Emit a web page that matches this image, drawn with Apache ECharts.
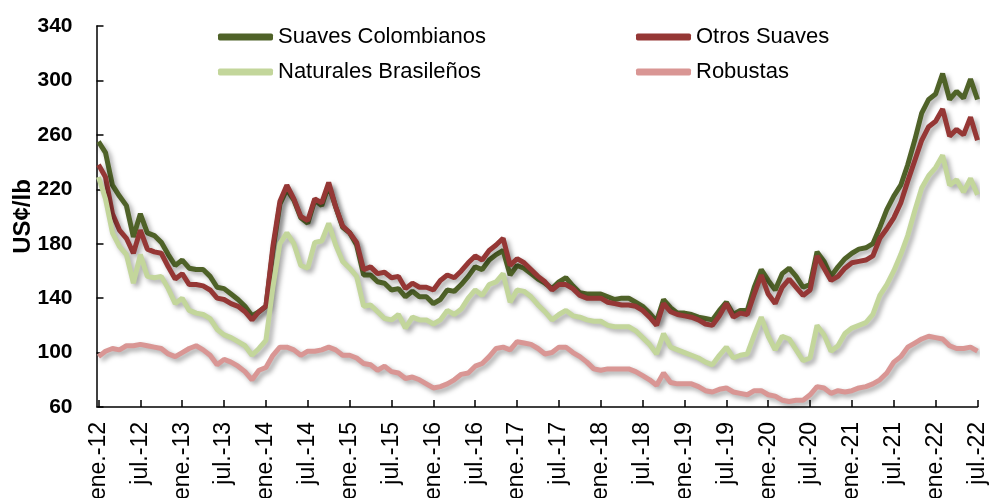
<!DOCTYPE html>
<html>
<head>
<meta charset="utf-8">
<script src="https://cdn.jsdelivr.net/npm/echarts@6/dist/echarts.min.js"></script>
<style>
  html, body { margin: 0; padding: 0; background: #ffffff; }
  #chart { width: 992px; height: 498px; }
</style>
</head>
<body>
<div id="chart"></div>
<script>
// meses y años del eje x (ene.-12 ... jul.-22)
var meses = ['ene.', 'feb.', 'mar.', 'abr.', 'may.', 'jun.', 'jul.', 'ago.', 'sept.', 'oct.', 'nov.', 'dic.'];
var anios = ['12', '13', '14', '15', '16', '17', '18', '19', '20', '21', '22'];

// precios mensuales, US¢/lb
var suavesColombianos = [
  255, 247, 223, 215, 208, 185, 202, 188, 186, 181,
  172, 164, 168, 162, 161, 161, 156, 148, 147, 143,
  139, 134, 127, 130, 134, 175, 209, 220, 212, 199,
  195, 212, 208, 223, 207, 192, 188, 179, 157, 157,
  152, 151, 146, 147, 141, 145, 141, 141, 136, 139,
  146, 145, 150, 156, 163, 161, 168, 172, 175, 157,
  164, 162, 158, 154, 151, 147, 152, 155, 149, 144,
  143, 143, 143, 141, 139, 140, 140, 137, 134, 129,
  123, 139, 133, 129, 129, 128, 126, 125, 124, 131,
  137, 128, 131, 131, 148, 161, 153, 146, 158, 162,
  156, 148, 150, 174, 167, 156, 163, 169, 173, 176,
  177, 180, 192, 205, 215, 223, 238, 256, 276, 286,
  290, 305, 286, 292, 287, 301, 286
];
var otrosSuaves = [
  238, 229, 202, 190, 184, 173, 190, 176, 174, 173,
  163, 154, 158, 150, 150, 149, 146, 140, 139, 136,
  134, 130, 124, 130, 134, 178, 211, 223, 213, 200,
  197, 213, 210, 225, 207, 193, 188, 181, 161, 163,
  158, 159, 155, 156, 147, 151, 148, 148, 146, 153,
  157, 155, 160, 166, 171, 168, 175, 179, 184, 164,
  169, 166, 161, 156, 152, 146, 150, 150, 147, 142,
  140, 140, 140, 137, 136, 135, 135, 134, 131, 126,
  120, 136, 130, 128, 127, 126, 124, 121, 120, 127,
  136, 126, 129, 128, 143, 157, 143, 136, 148, 154,
  148, 142, 146, 171, 162, 153, 156, 162, 166, 167,
  168, 171, 184, 191, 199, 210, 226, 241, 256, 266,
  270, 279, 259, 264, 260, 273, 256
];
var naturalesBrasilenos = [
  229, 213, 188, 178, 172, 151, 172, 156, 155, 156,
  147, 136, 140, 131, 129, 128, 125, 117, 113, 111,
  108, 105, 98, 103, 109, 148, 180, 188, 180, 164,
  162, 181, 182, 195, 179, 167, 162, 156, 134, 135,
  130, 125, 124, 128, 118, 126, 124, 124, 121, 124,
  131, 128, 132, 140, 146, 142, 150, 152, 158, 137,
  146, 145, 141, 135, 130, 124, 128, 131, 127, 126,
  124, 123, 123, 120, 119, 119, 119, 116, 111, 106,
  99, 114, 104, 102, 100, 98, 96, 93, 91, 98,
  104, 96, 98, 99, 113, 126, 112, 102, 112, 110,
  102, 94, 96, 120, 113, 101, 105, 114, 118, 120,
  122, 128, 142, 150, 160, 172, 186, 204, 221, 230,
  236, 245, 223, 227, 218, 228, 216
];
var robustas = [
  97, 101, 103, 102, 105, 105, 106, 105, 104, 103,
  99, 97, 100, 103, 105, 102, 98, 91, 95, 93,
  90, 86, 80, 87, 89, 98, 104, 104, 102, 98,
  101, 101, 102, 104, 102, 98, 98, 96, 92, 91,
  87, 90, 86, 85, 81, 82, 80, 77, 74, 75,
  77, 80, 84, 85, 90, 92, 97, 103, 104, 102,
  108, 107, 106, 103, 99, 100, 104, 104, 100, 97,
  93, 88, 87, 88, 88, 88, 88, 86, 83, 80,
  76, 85, 78, 77, 77, 77, 75, 72, 71, 73,
  74, 71, 70, 69, 72, 72, 69, 68, 65, 64,
  65, 65, 69, 75, 74, 70, 72, 71, 72, 74,
  75, 77, 80, 85, 93, 97, 104, 107, 110, 112,
  111, 110, 105, 103, 103, 104, 101
];

var fechas = [];
for (var i = 0; i < suavesColombianos.length; i++) {
  fechas.push(meses[i % 12] + '-' + anios[Math.floor(i / 12)]);
}

var fuente = '"Liberation Sans", Arial, sans-serif';

function serie(nombre, datos, color) {
  return {
    name: nombre,
    type: 'line',
    data: datos,
    showSymbol: false,
    symbol: 'none',
    smooth: false,
    lineStyle: {
      color: color,
      width: 5,
      shadowColor: 'rgba(0, 0, 0, 0.35)',
      shadowBlur: 5,
      shadowOffsetX: 3,
      shadowOffsetY: 3
    },
    itemStyle: { color: color }
  };
}

var chart = echarts.init(document.getElementById('chart'), null, { renderer: 'canvas' });

var option = {
  backgroundColor: '#ffffff',
  animation: false,
  textStyle: { fontFamily: fuente },
  legend: [{
    orient: 'vertical',
    left: 213,
    top: 21,
    itemGap: 13,
    itemWidth: 55,
    itemHeight: 7,
    icon: 'roundRect',
    textStyle: { fontSize: 22, color: '#000000', fontFamily: fuente },
    data: ['Suaves Colombianos', 'Naturales Brasileños']
  }, {
    orient: 'vertical',
    left: 631,
    top: 21,
    itemGap: 13,
    itemWidth: 55,
    itemHeight: 7,
    icon: 'roundRect',
    textStyle: { fontSize: 22, color: '#000000', fontFamily: fuente },
    data: ['Otros Suaves', 'Robustas']
  }],
  grid: {
    left: 98.5,
    right: 14.5,
    top: 26,
    bottom: 91,
    outerBoundsMode: 'none'
  },
  xAxis: {
    type: 'category',
    data: fechas,
    boundaryGap: false,
    axisLine: { lineStyle: { color: '#000000', width: 1.5 } },
    axisTick: { inside: true, length: 7, interval: 5, lineStyle: { color: '#000000', width: 1.5 } },
    axisLabel: {
      interval: 5,
      rotate: 90,
      margin: 15,
      fontSize: 23,
      color: '#000000',
      fontFamily: fuente
    },
    splitLine: { show: false }
  },
  yAxis: {
    type: 'value',
    min: 60,
    max: 340,
    interval: 40,
    offset: 2,
    name: 'US¢/lb',
    nameLocation: 'middle',
    nameRotate: 90,
    nameGap: 61,
    nameMoveOverlap: false,
    nameTextStyle: { fontSize: 24, fontWeight: 'bold', color: '#000000', fontFamily: fuente },
    axisLine: { show: true, lineStyle: { color: '#000000', width: 1.5 } },
    axisTick: { show: true, inside: true, length: 7, lineStyle: { color: '#000000', width: 1.5 } },
    axisLabel: { fontSize: 21, fontWeight: 'bold', color: '#000000', margin: 24, fontFamily: fuente },
    splitLine: { show: false }
  },
  series: [
    serie('Suaves Colombianos', suavesColombianos, '#4F6228'),
    serie('Otros Suaves', otrosSuaves, '#953735'),
    serie('Naturales Brasileños', naturalesBrasilenos, '#C3D69B'),
    serie('Robustas', robustas, '#D99694')
  ]
};

chart.setOption(option);
</script>
</body>
</html>
